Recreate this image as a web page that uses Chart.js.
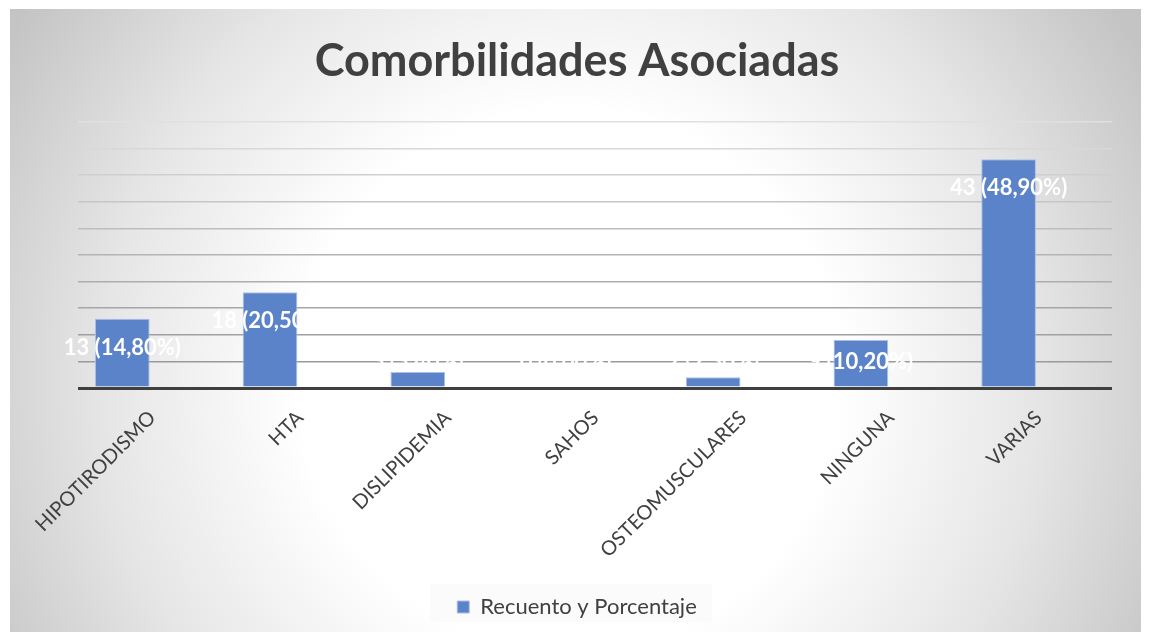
<!DOCTYPE html>
<html>
<head>
<meta charset="utf-8">
<script src="https://cdn.jsdelivr.net/npm/chart.js@4/dist/chart.umd.min.js"></script>
<style>
  html, body { margin: 0; padding: 0; background: #ffffff; }
  #wrap { width: 1149px; height: 636px; }
</style>
</head>
<body>
<div id="wrap"><canvas id="grafico"></canvas></div>
<script>
// datos
var categorias = ["HIPOTIRODISMO", "HTA", "DISLIPIDEMIA", "SAHOS", "OSTEOMUSCULARES", "NINGUNA", "VARIAS"];
var recuentos = [13, 18, 3, 0, 2, 9, 43];
var porcentajes = ["14,80%", "20,50%", "3,40%", "0,00%", "2,30%", "10,20%", "48,90%"];
var ticksY = [0, 5, 10, 15, 20, 25, 30, 35, 40, 45, 50];

var colorBarra = "#5b83c9";
var colorTexto = "#404040";

/*fondo con degradado radial*/
var fondoPlugin = {
  id: "fondo",
  beforeDraw: function (chart) {
    var ctx = chart.ctx;
    ctx.save();
    var g = ctx.createRadialGradient(570, 380, 10, 570, 380, 660);
    g.addColorStop(0, "#ffffff");
    g.addColorStop(0.4, "#ffffff");
    g.addColorStop(0.7, "#e6e6e6");
    g.addColorStop(1, "#c4c4c4");
    ctx.fillStyle = g;
    ctx.fillRect(10, 9, 1131, 623);
    // caja de la leyenda
    ctx.fillStyle = "rgba(250,250,250,0.8)";
    ctx.fillRect(430, 584, 282, 38);
    ctx.restore();
  }
};

/*etiquetas de datos dentro de las barras*/
var etiquetasPlugin = {
  id: "etiquetas",
  afterDatasetsDraw: function (chart) {
    var ctx = chart.ctx;
    var meta = chart.getDatasetMeta(0);
    var base = chart.scales.y.getPixelForValue(0);
    ctx.save();
    ctx.font = "bold 22px Lato";
    ctx.fillStyle = "#ffffff";
    ctx.textAlign = "center";
    ctx.textBaseline = "middle";
    for (var i = 0; i < meta.data.length; i++) {
      var barra = meta.data[i];
      var y = Math.min(barra.y + 29, base - 26);
      ctx.fillText(recuentos[i] + " (" + porcentajes[i] + ")", barra.x, y);
    }
    ctx.restore();
  }
};

var colorRejilla = ["#3f3f3f", "#9a9a9a", "#a0a0a0", "#a6a6a6", "#adadad", "#b4b4b4", "#bdbdbd", "#c6c6c6", "#cfcfcf", "#d8d8d8", "#e0e0e0"];

var puntos = [];
for (var i = 0; i < recuentos.length; i++) {
  puntos.push({ x: i, y: recuentos[i] });
}

var ctx = document.getElementById("grafico");
var miGrafico = new Chart(ctx, {
  type: "bar",
  data: {
    datasets: [{
      label: "Recuento y Porcentaje",
      data: puntos,
      backgroundColor: colorBarra,
      borderColor: "#a9bfe6",
      borderWidth: 1,
      barPercentage: 0.37,
      categoryPercentage: 1
    }]
  },
  options: {
    responsive: true,
    maintainAspectRatio: false,
    animation: false,
    layout: { padding: { left: 42, right: 37, top: 12, bottom: 8 } },
    plugins: {
      title: {
        display: true,
        text: "Comorbilidades Asociadas",
        color: colorTexto,
        font: { family: "Lato", size: 45, weight: "bold" },
        padding: { top: 22, bottom: 34 }
      },
      legend: {
        position: "bottom",
        labels: {
          color: colorTexto,
          font: { family: "Lato", size: 22 },
          boxWidth: 12,
          boxHeight: 12,
          padding: 8
        }
      },
      tooltip: { enabled: false }
    },
    scales: {
      x: {
        type: "linear",
        offset: false,
        min: -0.3,
        max: 6.7,
        afterBuildTicks: function (eje) {
          eje.ticks = categorias.map(function (c, i) { return { value: i }; });
        },
        afterFit: function (eje) {
          eje.height = 200;
          eje.paddingLeft = 0;
          eje.paddingRight = 0;
        },
        grid: { display: false },
        border: { display: false },
        ticks: {
          autoSkip: false,
          maxRotation: 45,
          minRotation: 45,
          labelOffset: 30,
          padding: 10,
          color: colorTexto,
          font: { family: "Lato", size: 20 },
          callback: function (v) { return categorias[v]; }
        }
      },
      y: {
        min: 0,
        max: 50,
        afterBuildTicks: function (eje) {
          eje.ticks = ticksY.map(function (v) { return { value: v }; });
        },
        afterFit: function (eje) {
          eje.width = 36;
        },
        grid: {
          color: function (c) { return colorRejilla[c.index]; },
          lineWidth: function (c) { return c.index === 0 ? 3 : 1.5; },
          drawTicks: false
        },
        border: { display: false },
        ticks: { display: false }
      }
    }
  },
  plugins: [fondoPlugin, etiquetasPlugin]
});
</script>
</body>
</html>
